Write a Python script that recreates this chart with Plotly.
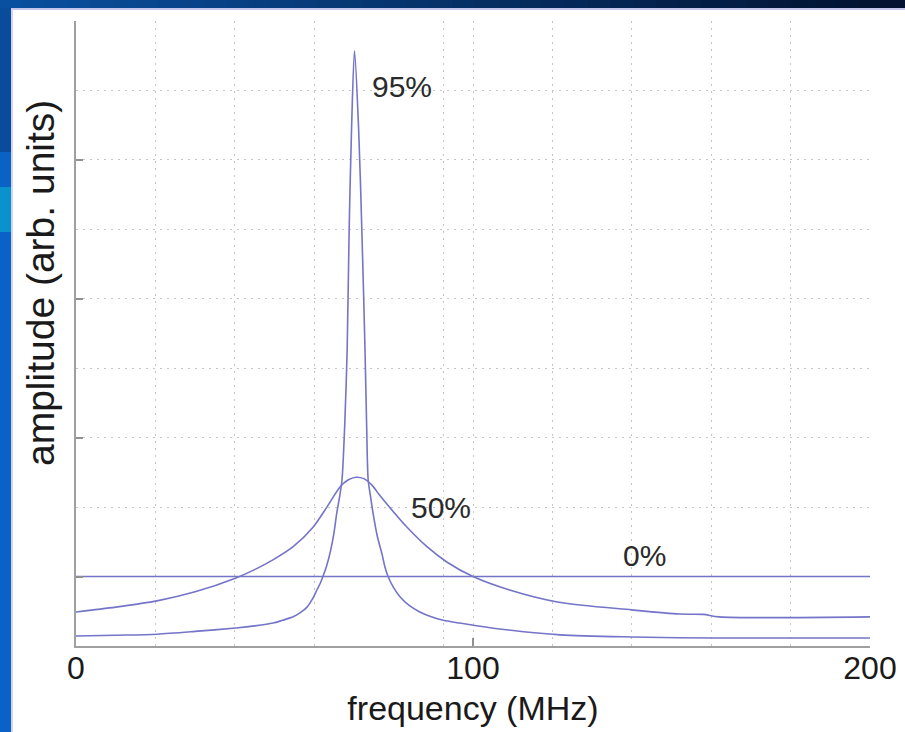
import plotly.graph_objects as go

# ---- data ----
freq_95 = [0, 10, 20.4, 30, 40.3, 45, 49.6, 52, 54.7, 56.5, 58.2, 59.5, 60.7, 61.5, 62.2, 63.1, 64.0,
           64.9, 65.7, 66.4, 67.0, 67.7, 68.3, 68.8, 69.4, 70.15, 71.2, 72.0, 72.8, 73.2, 73.6, 74.2,
           74.8, 75.9, 77.1, 77.8, 78.6, 80, 81.6, 84, 86.6, 89.5, 92.5, 96.7, 100, 109, 122, 140,
           160, 200]
amp_95 = [0.144, 0.155, 0.17, 0.21, 0.26, 0.29, 0.33, 0.37, 0.42, 0.48, 0.56, 0.67, 0.81, 0.90, 1.0,
          1.15, 1.34, 1.60, 1.92, 2.15, 2.39, 3.2, 4.26, 5.99, 7.43, 8.57, 7.43, 5.99, 4.26, 3.2, 2.39,
          2.15, 1.92, 1.58, 1.32, 1.14, 1.0, 0.84, 0.71, 0.58, 0.49, 0.42, 0.37, 0.33, 0.30, 0.23,
          0.16, 0.13, 0.115, 0.115]

freq_50 = [0, 10, 20.4, 30, 40.3, 45, 49.6, 54.7, 59.7, 63.2, 66.5, 68.5, 70.5, 72.5, 74.5, 76.5,
           80, 83.4, 88.4, 93.4, 100, 109, 121.6, 140, 152, 158, 162, 200]
amp_50 = [0.49, 0.56, 0.65, 0.78, 0.98, 1.10, 1.24, 1.43, 1.71, 2.0, 2.29, 2.39, 2.43, 2.41, 2.32,
          2.17, 1.93, 1.71, 1.43, 1.21, 1.0, 0.81, 0.63, 0.52, 0.46, 0.455, 0.42, 0.42]

freq_0 = [0, 200]
amp_0 = [1.0, 1.0]

series_labels = ["95%", "50%", "0%"]
x_tick_vals = [0, 100, 200]
x_tick_text = ["0", "100", "200"]
x_minor_grid = [20, 40, 60, 92.5, 120, 140, 160, 180]
y_tick_vals = [1, 3, 5, 7, 9]
y_minor_grid = [2, 4, 6, 8]
x_title = "frequency (MHz)"
y_title = "amplitude (arb. units)"

LINE = "#7474c8"
FONT = "Liberation Sans, Arial, Helvetica, sans-serif"

fig = go.Figure()
for fx, fy in [(freq_0, amp_0), (freq_50, amp_50), (freq_95, amp_95)]:
    fig.add_trace(go.Scatter(x=fx, y=fy, mode="lines",
                             line=dict(color=LINE, width=1.6, shape="spline", smoothing=0.8),
                             hoverinfo="skip", showlegend=False))

W, H = 905, 732
L, R, T, B = 76, 35, 21, 86
pw, ph = W - L - R, H - T - B


def px_x(px):
    return (px - L) / pw


def px_y(py):
    return (H - B - py) / ph


shapes = []
# left blue strip of slide background
bands = [(0, 152, "#0a4c9c"), (152, 187, "#0a62c4"), (187, 232, "#0a92cc"), (232, 732, "#0a62c8")]
for y0, y1, c in bands:
    shapes.append(dict(type="rect", xref="paper", yref="paper", x0=px_x(0), x1=px_x(11),
                       y0=px_y(y1), y1=px_y(y0), fillcolor=c, line=dict(width=0), layer="below"))
# top dark gradient strip
n = 40
c0 = (10, 80, 160)
c1 = (2, 18, 48)
for i in range(n):
    t = i / (n - 1)
    col = "rgb(%d,%d,%d)" % tuple(int(c0[k] + (c1[k] - c0[k]) * t) for k in range(3))
    shapes.append(dict(type="rect", xref="paper", yref="paper",
                       x0=px_x(W * i / n), x1=px_x(W * (i + 1) / n + 1),
                       y0=px_y(8), y1=px_y(0), fillcolor=col, line=dict(width=0), layer="below"))
# thin lavender edge
shapes.append(dict(type="line", xref="paper", yref="paper", x0=px_x(11), x1=px_x(W),
                   y0=px_y(9), y1=px_y(9), line=dict(color="#c4c4ec", width=2), layer="below"))
shapes.append(dict(type="line", xref="paper", yref="paper", x0=px_x(12), x1=px_x(12),
                   y0=px_y(9), y1=px_y(H), line=dict(color="#d4d4f0", width=2), layer="below"))

annotations = [
    dict(x=82, y=8.05, text=series_labels[0]),
    dict(x=92, y=2.0, text=series_labels[1]),
    dict(x=143.3, y=1.31, text=series_labels[2]),
]
for a in annotations:
    a.update(xref="x", yref="y", showarrow=False, font=dict(family=FONT, size=30, color="#2a2a2a"))
# y-axis title (placed above the axis centre, as in the reference)
annotations.append(dict(xref="paper", yref="paper", x=px_x(40), y=px_y(283), text=y_title,
                        textangle=-90, showarrow=False, xanchor="center", yanchor="middle",
                        font=dict(family=FONT, size=39, color="#1a1a1a")))

grid_dash = "2px,5px"
fig.update_layout(
    width=W, height=H, autosize=False,
    margin=dict(l=L, r=R, t=T, b=B, autoexpand=False),
    paper_bgcolor="white", plot_bgcolor="white",
    font=dict(family=FONT, color="#1a1a1a"),
    shapes=shapes, annotations=annotations,
    xaxis=dict(range=[0, 200], tickvals=x_tick_vals, ticktext=x_tick_text, automargin=False,
               showgrid=True, gridcolor="#c6c6c6", griddash=grid_dash, gridwidth=1,
               minor=dict(tickvals=x_minor_grid, showgrid=True, gridcolor="#c6c6c6",
                          griddash=grid_dash, ticks=""),
               showline=True, linecolor="#a0a0a0", linewidth=2,
               ticks="inside", ticklen=8, tickcolor="#909090", tickwidth=1.5,
               tickfont=dict(size=32, color="#1a1a1a"), ticklabelstandoff=-7,
               title=dict(text=x_title, font=dict(size=34, color="#1a1a1a"), standoff=11),
               zeroline=False),
    yaxis=dict(range=[0, 9], tickvals=y_tick_vals, showticklabels=False, automargin=False,
               showgrid=True, gridcolor="#c6c6c6", griddash=grid_dash, gridwidth=1,
               minor=dict(tickvals=y_minor_grid, showgrid=True, gridcolor="#c6c6c6",
                          griddash=grid_dash, ticks=""),
               showline=True, linecolor="#a0a0a0", linewidth=2,
               ticks="inside", ticklen=7, tickcolor="#909090", tickwidth=2,
               zeroline=False),
)

fig.write_html("out.html", config={"displayModeBar": False, "responsive": False},
               post_script="document.body.style.margin='0';")
